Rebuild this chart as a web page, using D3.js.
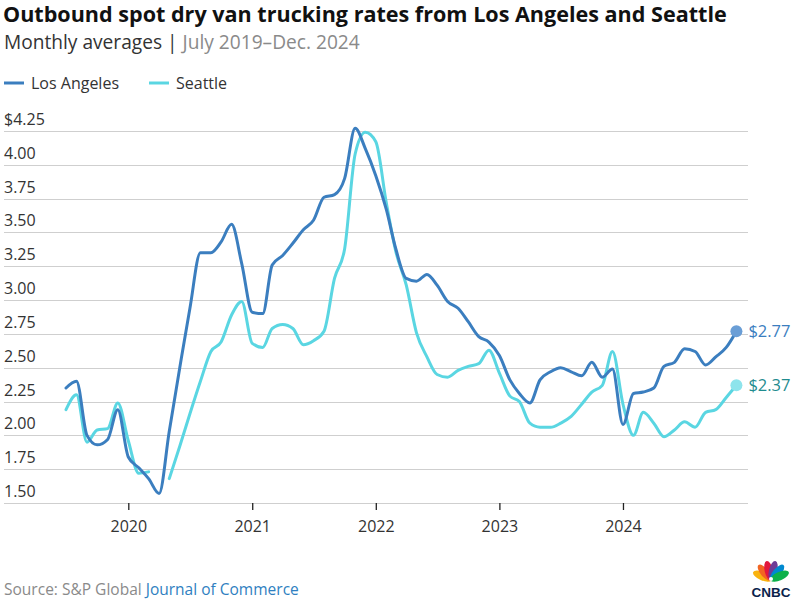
<!DOCTYPE html>
<html>
<head>
<meta charset="utf-8">
<script src="https://cdn.jsdelivr.net/npm/d3@7"></script>
<style>
  html, body { margin: 0; padding: 0; background: #fff; }
  svg { display: block; font-family: "Open Sans", Lato, sans-serif; }
</style>
</head>
<body>
<svg id="chart" width="799" height="604"></svg>
<script>
// ---- Data (monthly averages, $ per mile) ----
const months = [
  "2019-07","2019-08","2019-09","2019-10","2019-11","2019-12",
  "2020-01","2020-02","2020-03","2020-04","2020-05","2020-06","2020-07","2020-08","2020-09","2020-10","2020-11","2020-12",
  "2021-01","2021-02","2021-03","2021-04","2021-05","2021-06","2021-07","2021-08","2021-09","2021-10","2021-11","2021-12",
  "2022-01","2022-02","2022-03","2022-04","2022-05","2022-06","2022-07","2022-08","2022-09","2022-10","2022-11","2022-12",
  "2023-01","2023-02","2023-03","2023-04","2023-05","2023-06","2023-07","2023-08","2023-09","2023-10","2023-11","2023-12",
  "2024-01","2024-02","2024-03","2024-04","2024-05","2024-06","2024-07","2024-08","2024-09","2024-10","2024-11","2024-12"
];
const losAngeles = [
  2.35,2.40,2.00,1.93,1.97,2.19,
  1.84,1.76,1.68,1.57,2.03,2.50,2.94,3.35,3.35,3.43,3.56,3.27,
  2.91,2.90,3.26,3.33,3.42,3.52,3.59,3.76,3.78,3.90,4.27,4.12,
  3.92,3.67,3.38,3.16,3.14,3.19,3.11,2.99,2.94,2.84,2.73,2.69,
  2.59,2.41,2.31,2.24,2.41,2.47,2.50,2.47,2.44,2.54,2.43,2.49,
  2.08,2.31,2.32,2.35,2.51,2.54,2.64,2.62,2.52,2.58,2.65,2.77
];
const seattle = [
  2.19,2.30,1.95,2.04,2.05,2.24,
  1.96,1.72,1.73,null,1.68,1.92,2.16,2.40,2.62,2.69,2.89,2.99,
  2.68,2.65,2.79,2.82,2.79,2.67,2.70,2.77,3.16,3.38,4.08,4.24,
  4.17,3.72,3.36,3.11,2.76,2.58,2.45,2.43,2.48,2.51,2.53,2.63,
  2.46,2.29,2.25,2.09,2.06,2.06,2.09,2.14,2.23,2.32,2.37,2.62,
  2.23,2.00,2.17,2.09,1.99,2.04,2.10,2.06,2.17,2.19,2.28,2.37
];
const yTicks = [1.50,1.75,2.00,2.25,2.50,2.75,3.00,3.25,3.50,3.75,4.00,4.25];
const xTickYears = ["2020","2021","2022","2023","2024"];
const seriesNames = ["Los Angeles","Seattle"];
const seriesColors = ["#3b7ebf","#5ad6e2"];

// ---- Layout ----
const svg = d3.select("#chart");
const parse = d3.timeParse("%Y-%m");
const dates = months.map(parse);

const x = d3.scaleTime()
  .domain([parse("2019-07"), parse("2024-12")])
  .range([66, 736.4]);
const y = d3.scaleLinear().domain([1.5, 4.25]).range([503, 131]);

function fitWidth(sel, target) {
  const w = sel.node().getComputedTextLength();
  const fs = parseFloat(sel.attr("font-size"));
  sel.attr("font-size", (fs * target / w).toFixed(2));
}

// Title & subtitle
const title = svg.append("text").attr("x", 3).attr("y", 22)
  .attr("font-size", 20).attr("font-weight", 700).attr("fill", "#111")
  .text("Outbound spot dry van trucking rates from Los Angeles and Seattle");
fitWidth(title, 724);
const sub = svg.append("text").attr("x", 4).attr("y", 49).attr("font-size", 17);
sub.append("tspan").attr("fill", "#333").text("Monthly averages | ");
sub.append("tspan").attr("fill", "#8a8a8a").text("July 2019–Dec. 2024");
fitWidth(sub, 356);

// Legend
const legendX = [4, 149];
seriesNames.forEach((n, i) => {
  svg.append("line").attr("x1", legendX[i]).attr("x2", legendX[i] + 20)
    .attr("y1", 83).attr("y2", 83)
    .attr("stroke", seriesColors[i]).attr("stroke-width", 3);
  svg.append("text").attr("x", legendX[i] + 27).attr("y", 89)
    .attr("font-size", 16).attr("fill", "#333").text(n);
});

// Grid + y labels
const grid = svg.append("g");
yTicks.forEach(t => {
  const yy = Math.round(y(t)) + 0.5;
  grid.append("line").attr("x1", 4).attr("x2", 748).attr("y1", yy).attr("y2", yy)
    .attr("stroke", "#cfcfcf").attr("stroke-width", 1);
  grid.append("text").attr("x", 4).attr("y", yy - 7)
    .attr("font-size", 16).attr("fill", "#333")
    .text(t === 4.25 ? "$" + t.toFixed(2) : t.toFixed(2));
});

// X axis
const xAxis = d3.axisBottom(x)
  .tickValues(xTickYears.map(d => d3.timeParse("%Y")(d)))
  .tickFormat(d3.timeFormat("%Y"))
  .tickSize(7).tickPadding(11);
const gx = svg.append("g").attr("transform", "translate(0,503)").call(xAxis);
gx.select(".domain").remove();
gx.selectAll(".tick line").attr("stroke", "#222").attr("stroke-width", 1.3);
gx.selectAll(".tick text").attr("font-size", 16).attr("fill", "#333")
  .attr("font-family", "'Open Sans', Lato, sans-serif");

// Lines
const line = d3.line()
  .defined(d => d.v !== null)
  .x(d => x(d.date)).y(d => y(d.v))
  .curve(d3.curveMonotoneX);
[seattle, losAngeles].forEach((arr, k) => {
  const i = k === 0 ? 1 : 0;
  const pts = arr.map((v, j) => ({ date: dates[j], v }));
  svg.append("path").datum(pts).attr("d", line)
    .attr("fill", "none").attr("stroke", seriesColors[i])
    .attr("stroke-width", 3).attr("stroke-linejoin", "round").attr("stroke-linecap", "round");
});

// End dots and labels
const endLabelColors = ["#3b7ebf", "#1f8c8f"];
const dotColors = ["#6a9ed6", "#8ee4ec"];
[losAngeles, seattle].forEach((arr, i) => {
  const last = arr[arr.length - 1];
  const lx = x(dates[dates.length - 1]);
  svg.append("circle").attr("cx", lx).attr("cy", y(last)).attr("r", 6)
    .attr("fill", dotColors[i]);
  svg.append("text").attr("x", lx + 12).attr("y", y(last) + 6)
    .attr("font-size", 16.5).attr("fill", endLabelColors[i])
    .text("$" + last.toFixed(2));
});

// Source
const src = svg.append("text").attr("x", 4).attr("y", 595).attr("font-size", 15);
src.append("tspan").attr("fill", "#8a8a8a").text("Source: S&P Global ");
src.append("tspan").attr("fill", "#2f7fc1").text("Journal of Commerce");
fitWidth(src, 295);

// CNBC logo
const logo = svg.append("g").attr("transform", "translate(771,580)");
const feathers = [
  { a: -66, c: "#f9b20f" },
  { a: -40, c: "#f26522" },
  { a: -13, c: "#e2173d" },
  { a: 13,  c: "#6e3b96" },
  { a: 40,  c: "#0089d0" },
  { a: 66,  c: "#0db14b" }
];
feathers.forEach(f => {
  logo.append("ellipse").attr("cx", 0).attr("cy", -9.5).attr("rx", 4.2).attr("ry", 10)
    .attr("fill", f.c).attr("transform", `rotate(${f.a})`);
});
logo.append("circle").attr("cx", 0).attr("cy", -1).attr("r", 2).attr("fill", "#fff");
logo.append("text").attr("x", 0).attr("y", 17).attr("text-anchor", "middle")
  .attr("font-size", 13.5).attr("font-weight", 900).attr("fill", "#0b1f4b")
  .attr("font-family", "'Liberation Sans', Arial, sans-serif").text("CNBC");
</script>
</body>
</html>
